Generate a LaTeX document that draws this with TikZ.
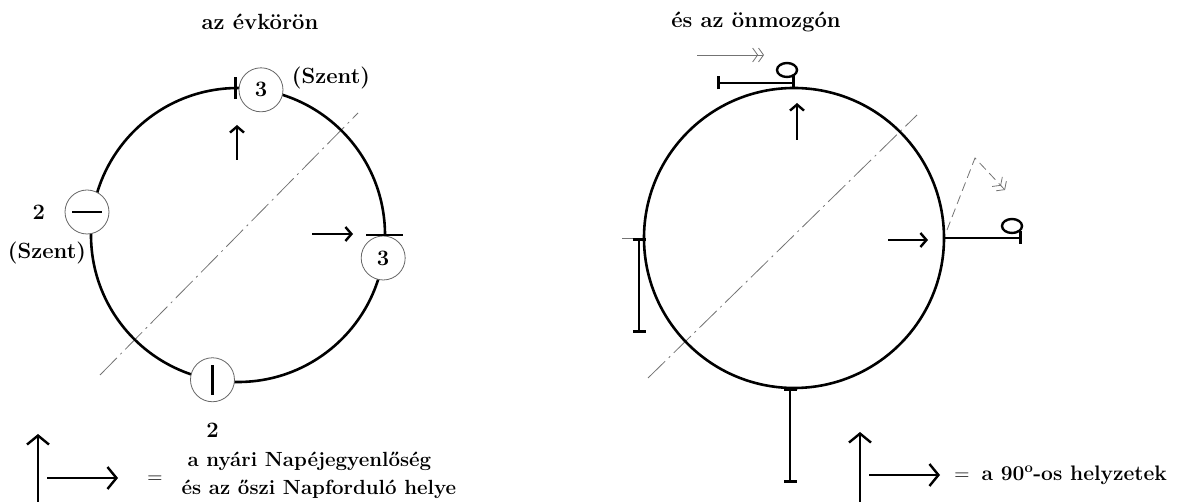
\documentclass[tikz,border=0pt]{standalone}
\usetikzlibrary{arrows.meta,positioning,calc,shapes.geometric}

\begin{document}
\begin{tikzpicture}[x=1pt,y=-1pt,
    every node/.style={font=\fontsize{22}{28}\selectfont\bfseries},
    ring/.style={circle, draw, line width=2.6pt, minimum size=#1, inner sep=0pt, outer sep=0pt},
    disc/.style={circle, draw=black!60, line width=0.8pt, fill=white, minimum size=44pt, inner sep=0pt},
    ar/.style={-{Straight Barb[length=6pt,width=14pt]}, line width=2.4pt},
    bigar/.style={-{Straight Barb[length=9pt,width=22pt]}, line width=2.4pt},
    stub/.style={line width=2.6pt},
    tbar/.style={{Bar[width=13pt]}-{Bar[width=13pt]}, line width=2.6pt},
    tilt/.style={draw=black!55, line width=0.8pt, dash pattern=on 24pt off 5pt on 2pt off 5pt},
    ghost/.style={draw=black!55, line width=0.8pt},
    dbl/.style={-{Straight Barb[length=5pt,width=14pt] Straight Barb[length=5pt,width=14pt]}},
    oo/.style={ellipse, draw, line width=2.4pt, minimum width=20pt, minimum height=14pt, inner sep=0pt},
    eqs/.style={font=\fontsize{21}{28}\selectfont}]
  \useasboundingbox (0,0) rectangle (1184,502);

  % az evkoron
  \node (t1) at (260,22) {az évkörön};
  \coordinate (ya) at (100,375);
  \coordinate (yb) at (358,113);
  \draw[tilt] (ya) -- (yb);
  \node[ring=294pt] (yr) at (238,235) {};
  \node[disc] (d3) at (yr.81.5) {3};
  \node[disc] (dl) at (87,212) {};
  \node[disc] (dr) at (yr.-9.5) {3};
  \node[disc] (db) at (yr.-100) {};
  \draw[stub] ([xshift=-15pt]dl.center) -- ([xshift=15pt]dl.center);
  \draw[stub] ([yshift=-15pt]db.center) -- ([yshift=15pt]db.center);
  \draw[stub] ([yshift=-11pt]yr.91) -- ([yshift=11pt]yr.91);
  \draw[stub] ([xshift=-19pt]yr.east) -- ([xshift=18pt]yr.east);
  \node[left=16pt of dl] (n2) {2};
  \node (s1) at (47,253) {(Szent)};
  \node (s2) at (331,78) {(Szent)};
  \node[below=17pt of db] (n2b) {2};
  \coordinate (ua0) at (237,160);
  \coordinate (ua1) at (237,125);
  \draw[ar] (ua0) -- (ua1);
  \coordinate (ra0) at (312,234);
  \coordinate (ra1) at (353,234);
  \draw[ar] (ra0) -- (ra1);

  % jelmagyarazat balra
  \coordinate (lu0) at (38,502);
  \coordinate (lu1) at (38,434);
  \draw[bigar] (lu0) -- (lu1);
  \coordinate (lr0) at (47,478);
  \coordinate (lr1) at (118,478);
  \draw[bigar] (lr0) -- (lr1);
  \node[eqs] (eq1) at (155,480) {=};
  \node[anchor=west, align=left, font=\fontsize{20.5}{28}\selectfont\bfseries] (key1) at (178,475) {\hspace*{6pt}a nyári Napéjegyenlőség\\és az őszi Napforduló helye};

  % es az onmozgon
  \node (t2) at (756,22) {és az önmozgón};
  \coordinate (oa) at (648,378);
  \coordinate (ob) at (917,115);
  \draw[tilt] (oa) -- (ob);
  \node[ring=300pt] (own) at (794,238) {};
  \coordinate (tb0) at (717,83);
  \coordinate (tb1) at (795,83);
  \draw[tbar] (tb0) -- (tb1);
  \node[oo] (o1) at (787,70) {};
  \coordinate (ga0) at (697,55);
  \coordinate (ga1) at (764,55);
  \draw[ghost, dbl] (ga0) -- (ga1);
  \coordinate (ua2) at (797,140);
  \coordinate (ua3) at (797,103);
  \draw[ar] (ua2) -- (ua3);
  \coordinate (ra2) at (888,240);
  \coordinate (ra3) at (928,240);
  \draw[ar] (ra2) -- (ra3);
  \coordinate (rb1) at (1022,238);
  \draw[line width=2.6pt, -{Bar[width=13pt]}] (own.east) -- (rb1);
  \node[oo] (o2) at (1012,226) {};
  \coordinate (dk0) at (947,230);
  \coordinate (dk1) at (975,158);
  \coordinate (dk2) at (1005,190);
  \draw[ghost, dash pattern=on 9pt off 5pt, dbl] (dk0) -- (dk1) -- (dk2);
  \coordinate (lt0) at (622,238);
  \draw[ghost] (lt0) -- (own.west);
  \coordinate (lv0) at (639,238);
  \coordinate (lv1) at (639,333);
  \draw[tbar] (lv0) -- (lv1);
  \coordinate (bv0) at (790,388);
  \coordinate (bv1) at (790,483);
  \draw[tbar] (bv0) -- (bv1);

  % jelmagyarazat jobbra
  \coordinate (lu2) at (860,502);
  \coordinate (lu3) at (860,432);
  \draw[bigar] (lu2) -- (lu3);
  \coordinate (lr2) at (869,475);
  \coordinate (lr3) at (940,475);
  \draw[bigar] (lr2) -- (lr3);
  \node[eqs] (eq2) at (962,477) {=};
  \node[anchor=west, font=\fontsize{21}{28}\selectfont\bfseries] (key2) at (978,475) {a 90\textsuperscript{o}-os helyzetek};
\end{tikzpicture}
\end{document}
